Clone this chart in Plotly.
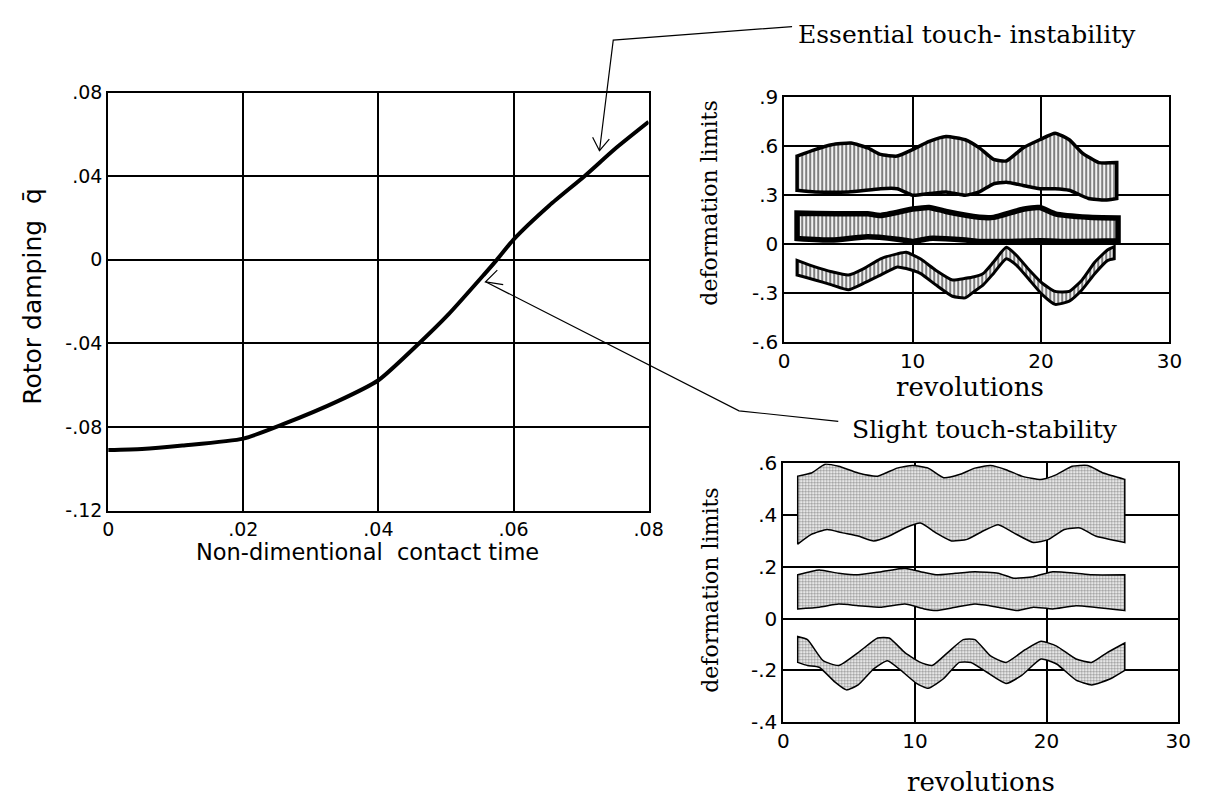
import plotly.graph_objects as go

W, H = 1207, 808

# ---------------- main chart data ----------------
contact_time = [0.0, 0.005, 0.011, 0.02, 0.026, 0.034, 0.04, 0.046, 0.0504,
                0.0556, 0.0574, 0.06, 0.0653, 0.0705, 0.075, 0.08]
rotor_damping = [-0.091, -0.0905, -0.0888, -0.0855, -0.0785, -0.0676, -0.0576,
                 -0.040, -0.026, -0.0072, -0.0005, 0.0097, 0.026, 0.040, 0.053, 0.066]
main_xticks = [0, 0.02, 0.04, 0.06, 0.08]
main_xlabels = ["0", ".02", ".04", ".06", ".08"]
main_yticks = [-0.12, -0.08, -0.04, 0, 0.04, 0.08]
main_ylabels = ["-.12", "-.08", "-.04", "0", ".04", ".08"]

# ---------------- essential touch (instability) bands ----------------
ess_b1_up_x = [1.0, 2.4, 3.7, 5.2, 6.5, 7.5, 8.8, 10.0, 11.3, 12.6, 14.1, 15.2,
               16.3, 17.3, 18.6, 19.9, 21.1, 22.2, 23.2, 24.5, 25.9]
ess_b1_up_y = [0.54, 0.58, 0.61, 0.62, 0.59, 0.55, 0.54, 0.58, 0.63, 0.66, 0.64, 0.59,
               0.52, 0.51, 0.59, 0.64, 0.68, 0.64, 0.56, 0.50, 0.50]
ess_b1_lo_x = [1.0, 2.4, 5.0, 7.5, 8.8, 10.0, 11.3, 12.6, 14.1, 15.2, 16.3, 17.3,
               18.6, 19.9, 21.1, 22.2, 23.7, 25.0, 25.9]
ess_b1_lo_y = [0.33, 0.32, 0.32, 0.34, 0.34, 0.30, 0.31, 0.32, 0.30, 0.32, 0.37, 0.38,
               0.36, 0.34, 0.34, 0.33, 0.28, 0.27, 0.28]

ess_b2_up_x = [1.0, 4.0, 6.5, 7.5, 10.0, 11.3, 12.6, 15.2, 16.3, 18.6, 19.9, 21.1, 23.7, 26.0]
ess_b2_up_y = [0.19, 0.186, 0.186, 0.176, 0.215, 0.225, 0.20, 0.165, 0.164, 0.214, 0.224,
               0.185, 0.164, 0.16]
ess_b2_lo_x = [1.0, 3.7, 6.5, 8.8, 10.0, 11.3, 14.1, 15.2, 17.3, 19.9, 22.4, 26.0]
ess_b2_lo_y = [0.035, 0.025, 0.045, 0.03, 0.016, 0.035, 0.025, 0.016, 0.016, 0.02, 0.016, 0.02]

ess_b3_x = [1.0, 2.4, 3.7, 5.0, 6.2, 7.5, 8.8, 9.5, 10.6, 11.8, 13.1, 14.1, 14.8, 15.5,
            16.3, 17.3, 18.1, 19.1, 20.1, 21.1, 22.2, 23.2, 24.2, 25.2, 25.7]
ess_b3_up_y = [-0.10, -0.14, -0.17, -0.19, -0.15, -0.09, -0.06, -0.05, -0.09, -0.16, -0.22,
               -0.21, -0.20, -0.18, -0.11, -0.02, -0.07, -0.16, -0.24, -0.29, -0.29, -0.22,
               -0.11, -0.035, -0.015]
ess_b3_lo_y = [-0.19, -0.22, -0.25, -0.28, -0.24, -0.19, -0.14, -0.15, -0.18, -0.25, -0.32,
               -0.33, -0.29, -0.25, -0.18, -0.09, -0.13, -0.22, -0.31, -0.37, -0.35, -0.28,
               -0.18, -0.10, -0.09]

ess_xticks = [0, 10, 20, 30]
ess_xlabels = ["0", "10", "20", "30"]
ess_yticks = [-0.6, -0.3, 0, 0.3, 0.6, 0.9]
ess_ylabels = ["-.6", "-.3", "0", ".3", ".6", ".9"]

# ---------------- slight touch (stability) bands ----------------
sl_a_up_x = [1.1, 2.14, 3.18, 4.21, 5.69, 7.17, 8.65, 9.83, 11.01, 12.19, 13.37, 14.56,
             15.74, 16.92, 18.11, 19.58, 20.76, 21.94, 23.13, 24.31, 25.94]
sl_a_up_y = [0.55, 0.562, 0.596, 0.588, 0.562, 0.55, 0.581, 0.591, 0.581, 0.544, 0.556,
             0.581, 0.591, 0.575, 0.55, 0.5375, 0.556, 0.588, 0.591, 0.562, 0.5375]
sl_a_lo_x = [1.1, 2.14, 3.33, 4.51, 5.69, 6.87, 8.05, 9.24, 10.42, 11.6, 12.78, 13.97,
             15.15, 16.33, 17.51, 18.99, 20.17, 21.35, 22.54, 23.72, 25.94]
sl_a_lo_y = [0.2875, 0.325, 0.344, 0.331, 0.319, 0.30, 0.319, 0.35, 0.369, 0.331, 0.30,
             0.306, 0.3375, 0.3625, 0.331, 0.294, 0.306, 0.344, 0.35, 0.319, 0.294]

sl_b_up_x = [1.1, 2.73, 4.21, 5.69, 7.46, 9.24, 10.42, 11.6, 13.08, 14.56, 16.33, 17.51,
             18.99, 20.47, 22.24, 23.42, 25.94]
sl_b_up_y = [0.169, 0.1875, 0.175, 0.169, 0.181, 0.194, 0.181, 0.169, 0.175, 0.181, 0.175,
             0.156, 0.162, 0.181, 0.175, 0.169, 0.169]
sl_b_lo_x = [1.1, 2.73, 4.21, 5.69, 7.46, 9.24, 10.71, 11.6, 13.08, 14.56, 16.33, 17.81,
             18.99, 20.47, 22.24, 25.94]
sl_b_lo_y = [0.0375, 0.044, 0.056, 0.05, 0.044, 0.056, 0.0375, 0.031, 0.044, 0.056, 0.044,
             0.031, 0.044, 0.0375, 0.05, 0.031]

sl_c_up_x = [1.1, 1.84, 3.03, 4.21, 5.69, 7.17, 8.05, 9.24, 10.42, 11.31, 12.49, 13.67,
             14.56, 15.74, 16.92, 18.40, 19.58, 20.76, 22.24, 23.42, 24.61, 25.94]
sl_c_up_y = [-0.069, -0.081, -0.1625, -0.181, -0.131, -0.075, -0.075, -0.131, -0.169,
             -0.181, -0.131, -0.081, -0.081, -0.144, -0.169, -0.119, -0.0875, -0.106,
             -0.156, -0.169, -0.131, -0.094]
sl_c_lo_x = [1.1, 1.84, 2.73, 3.91, 4.80, 5.69, 6.87, 7.91, 8.94, 10.12, 11.01, 12.19,
             13.37, 14.26, 15.44, 16.92, 18.11, 19.58, 20.76, 22.24, 23.42, 24.90, 25.94]
sl_c_lo_y = [-0.169, -0.181, -0.1875, -0.244, -0.275, -0.256, -0.194, -0.1625, -0.20,
             -0.25, -0.269, -0.231, -0.169, -0.169, -0.206, -0.25, -0.219, -0.156, -0.175,
             -0.2375, -0.256, -0.231, -0.20]

sl_xticks = [0, 10, 20, 30]
sl_xlabels = ["0", "10", "20", "30"]
sl_yticks = [-0.4, -0.2, 0, 0.2, 0.4, 0.6]
sl_ylabels = ["-.4", "-.2", "0", ".2", ".4", ".6"]

# ---------------- texts ----------------
main_xtitle = "Non-dimentional  contact time"
main_ytitle = "Rotor damping  q\u0304"
right_ytitle = "deformation limits"
right_xtitle = "revolutions"
label_unstable = "Essential touch- instability"
label_stable = "Slight touch-stability"

SANS = "DejaVu Sans, Liberation Sans, sans-serif"
SERIF = "DejaVu Serif, Liberation Serif, serif"


def px(x):
    return x / W


def py(y):
    return 1 - y / H


fig = go.Figure()

# main curve
fig.add_trace(go.Scatter(x=contact_time, y=rotor_damping, mode="lines",
                         line=dict(color="black", width=4, shape="spline", smoothing=0.6),
                         xaxis="x", yaxis="y", showlegend=False))


def band(xu, yu, xl, yl, xa, ya, pattern, lw):
    # closed outline: lower edge left->right, straight right end, upper edge right->left,
    # straight left end (end points doubled so the spline keeps sharp corners)
    xs = [xl[0]] + list(xl) + [xl[-1], xu[-1]] + list(reversed(xu)) + [xu[0], xl[0]]
    ys = [yl[0]] + list(yl) + [yl[-1], yu[-1]] + list(reversed(yu)) + [yu[0], yl[0]]
    fig.add_trace(go.Scatter(x=xs, y=ys, mode="lines", fill="toself",
                             fillcolor="rgba(0,0,0,0)",
                             fillpattern=pattern,
                             line=dict(color="black", width=lw, shape="spline", smoothing=0.5),
                             xaxis=xa, yaxis=ya, showlegend=False))


pat_ess = dict(shape="|", fgcolor="black", bgcolor="white", size=4, solidity=0.55)
pat_sl = dict(shape=".", fgcolor="#333333", bgcolor="white", size=3, solidity=0.5)

band(ess_b1_up_x, ess_b1_up_y, ess_b1_lo_x, ess_b1_lo_y, "x2", "y2", pat_ess, 3.5)
band(ess_b2_up_x, ess_b2_up_y, ess_b2_lo_x, ess_b2_lo_y, "x2", "y2", pat_ess, 5.5)
band(ess_b3_x, ess_b3_up_y, ess_b3_x, ess_b3_lo_y, "x2", "y2", pat_ess, 3)

band(sl_a_up_x, sl_a_up_y, sl_a_lo_x, sl_a_lo_y, "x3", "y3", pat_sl, 1.5)
band(sl_b_up_x, sl_b_up_y, sl_b_lo_x, sl_b_lo_y, "x3", "y3", pat_sl, 1.5)
band(sl_c_up_x, sl_c_up_y, sl_c_lo_x, sl_c_lo_y, "x3", "y3", pat_sl, 1.5)

axis_common = dict(showline=True, mirror=True, linecolor="black", showgrid=True,
                   gridcolor="black", zeroline=False, ticks="", tickmode="array")

fig.update_layout(
    width=W, height=H,
    margin=dict(l=0, r=0, t=0, b=0),
    paper_bgcolor="white", plot_bgcolor="white",
    showlegend=False,
    xaxis=dict(axis_common, domain=[px(104), px(654)], range=[0, 0.08],
               tickvals=main_xticks, ticktext=main_xlabels, linewidth=2, gridwidth=2,
               tickfont=dict(family=SANS, size=19, color="black"), anchor="y"),
    yaxis=dict(axis_common, domain=[py(514), py(83)], range=[-0.12, 0.08],
               tickvals=main_yticks, ticktext=main_ylabels, linewidth=2, gridwidth=2,
               tickfont=dict(family=SANS, size=19, color="black"), anchor="x"),
    xaxis2=dict(axis_common, domain=[px(792), px(1184)], range=[0, 30],
                tickvals=ess_xticks, ticktext=ess_xlabels, linewidth=2, gridwidth=1.5,
                tickfont=dict(family=SANS, size=20, color="black"), anchor="y2"),
    yaxis2=dict(axis_common, domain=[py(340), py(88)], range=[-0.6, 0.9],
                tickvals=ess_yticks, ticktext=ess_ylabels, linewidth=2, gridwidth=1.5,
                tickfont=dict(family=SANS, size=20, color="black"), anchor="x2"),
    xaxis3=dict(axis_common, domain=[px(791), px(1193)], range=[0, 30],
                tickvals=sl_xticks, ticktext=sl_xlabels, linewidth=2, gridwidth=1.5,
                tickfont=dict(family=SANS, size=20, color="black"), anchor="y3"),
    yaxis3=dict(axis_common, domain=[py(732), py(465)], range=[-0.4, 0.6],
                tickvals=sl_yticks, ticktext=sl_ylabels, linewidth=2, gridwidth=1.5,
                tickfont=dict(family=SANS, size=20, color="black"), anchor="x3"),
)


def label(text, x, y, family, size, angle=0, xanchor="center"):
    return dict(text=text, x=px(x), y=py(y), xref="paper", yref="paper",
                xanchor=xanchor, yanchor="middle", showarrow=False, textangle=angle,
                font=dict(family=family, size=size, color="black"))


ann = [
    label(main_xtitle, 368, 557, SANS, 22.5),
    label(main_ytitle, 27, 293, SANS, 25, angle=-90),
    label(right_ytitle, 716, 197, SERIF, 22, angle=-90),
    label(right_ytitle, 717, 596, SERIF, 22, angle=-90),
    label(right_xtitle, 981, 386, SERIF, 26),
    label(right_xtitle, 992, 794, SERIF, 26),
    label(label_unstable, 804, 23, SERIF, 25, xanchor="left"),
    label(label_stable, 859, 430, SERIF, 25, xanchor="left"),
]
fig.update_layout(annotations=ann)


# connector lines with open arrowheads (layout decorations, pixel based)
def path(points):
    d = "M " + " L ".join(f"{px(a)},{py(b)}" for a, b in points)
    return dict(type="path", path=d, xref="paper", yref="paper",
                line=dict(color="black", width=1.2))


shapes = [
    path([(800, 15), (618, 29), (604, 143)]),
    path([(597, 129), (604, 143), (614, 131)]),
    path([(847, 422), (746, 411), (488, 278)]),
    path([(500, 266), (488, 278), (506, 281)]),
]
fig.update_layout(shapes=shapes)

fig.write_html("out.html")
